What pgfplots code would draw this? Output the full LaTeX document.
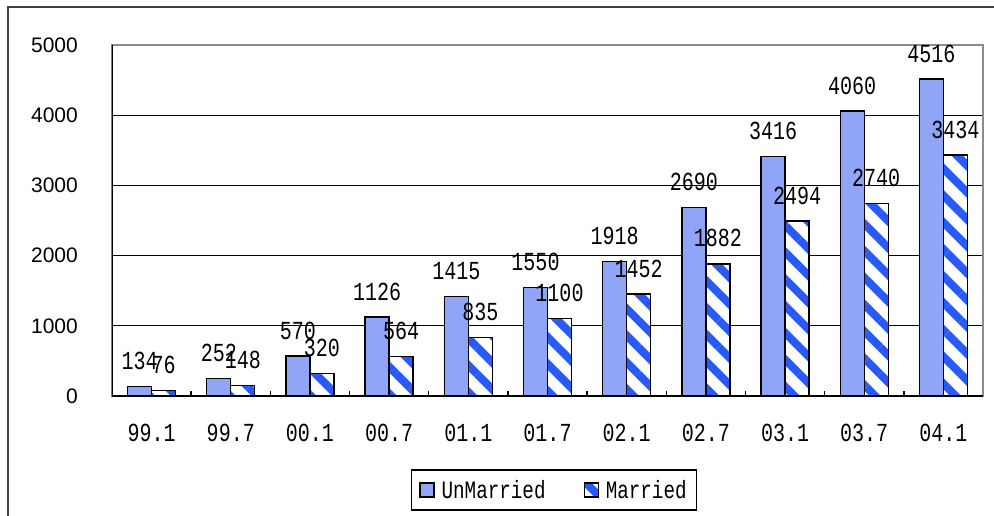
\documentclass[border=0pt]{standalone}
\usepackage{pgfplots}
\pgfplotsset{compat=1.18}
\usepackage{fontspec}
\setmainfont{Liberation Sans}
\newfontfamily\monof[FakeStretch=0.77]{Liberation Mono}
\usetikzlibrary{patterns.meta}
\definecolor{ublue}{RGB}{145,165,248}
\definecolor{sblue}{RGB}{40,90,250}
\begin{document}
\begin{tikzpicture}
\useasboundingbox (0,0) rectangle (994pt,515pt);
\draw[line width=2pt, black!75] (8pt,-10pt) -- (8pt,508pt) -- (1004pt,508pt);
\begin{axis}[
  at={(112pt,119pt)}, anchor=south west,
  scale only axis, width=871pt, height=351pt,
  ybar=0pt, bar width=24pt,
  xmin=-0.5, xmax=10.5, ymin=0, ymax=5000,
  xtick={0,...,10},
  xticklabels={99.1,99.7,00.1,00.7,01.1,01.7,02.1,02.7,03.1,03.7,04.1},
  ytick={0,1000,2000,3000,4000,5000},
  xtick pos=bottom, ytick pos=left,
  major tick length=0pt,
  extra x ticks={0.5,1.5,...,9.5},
  extra x tick labels={},
  extra x tick style={major tick length=5pt, tick align=inside, tick style={black, line width=1.5pt}},
  ymajorgrids, grid style={black, line width=1.3pt},
  axis line style={draw=black!45, line width=1.2pt},
  /pgf/number format/.cd, 1000 sep={}, assume math mode=true, /pgfplots/.cd,
  yticklabel style={font=\fontsize{21}{21}\selectfont, anchor=east, inner sep=0pt, xshift=-34pt},
  xticklabel style={font=\monof\fontsize{26}{26}\selectfont, anchor=north, inner sep=0pt, yshift=-27.5pt},
  nodes near coords,
  nodes near coords style={font=\monof\fontsize{26}{26}\selectfont, anchor=south, inner sep=0pt, yshift=16pt},
  legend columns=2,
  legend style={at={(0.5075,-0.2678)}, anchor=center, draw=black, line width=1.5pt,
    font=\monof\fontsize{25}{25}\selectfont, inner xsep=8pt, inner ysep=8pt,
    /tikz/every odd column/.append style={column sep=5pt},
    /tikz/every even column/.append style={column sep=36pt}},
  legimg/.style={legend image code/.code={
    \draw[##1, line width=1.2pt] (0pt,-7pt) rectangle (14pt,7pt);}},
]
\addplot[fill=ublue, draw=black, line width=1.3pt, legimg]
  coordinates {(0,134) (1,252) (2,570) (3,1126) (4,1415) (5,1550) (6,1918) (7,2690) (8,3416) (9,4060) (10,4516)};
\addplot[draw=black, line width=1.3pt, preaction={fill=white},
  pattern={Lines[angle=-45,distance=19pt,line width=8pt]}, pattern color=sblue, legimg]
  coordinates {(0,76) (1,148) (2,320) (3,564) (4,835) (5,1100) (6,1452) (7,1882) (8,2494) (9,2740) (10,3434)};
\legend{UnMarried, Married}
\draw[black!45, line width=1.2pt] (rel axis cs:0,1) -- (rel axis cs:1,1) -- (rel axis cs:1,0);
\draw[black, line width=1.5pt] (rel axis cs:0,1) -- (rel axis cs:0,0) -- (rel axis cs:1,0);
\end{axis}
\end{tikzpicture}
\end{document}
